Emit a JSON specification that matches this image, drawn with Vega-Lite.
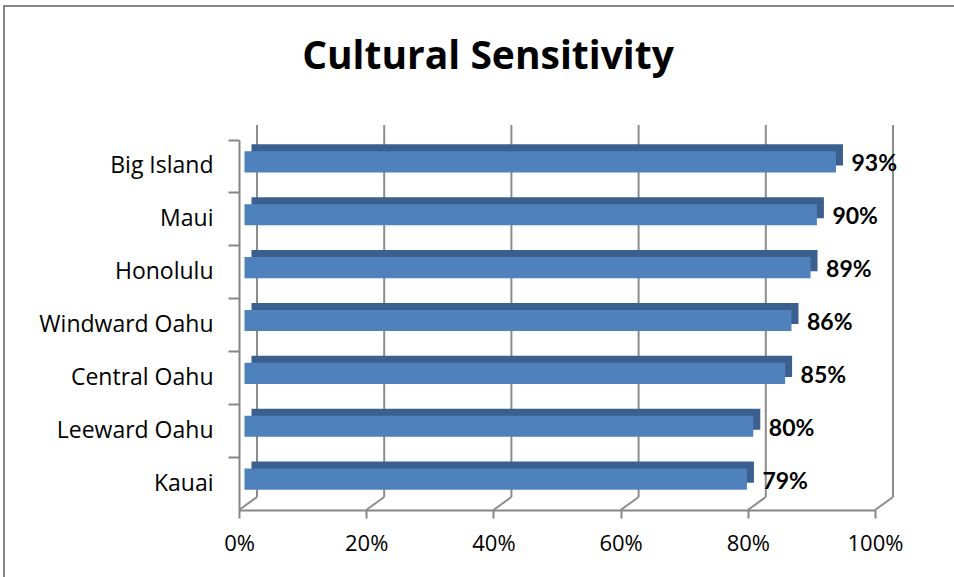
{
  "$schema": "https://vega.github.io/schema/vega-lite/v6.json",
  "autosize": "none",
  "padding": {"left": 4, "top": 6, "right": 0, "bottom": 0},
  "width": 1000,
  "height": 620,
  "background": "white",
  "config": {
    "view": {"stroke": "#868686", "strokeWidth": 2},
    "font": "Open Sans"
  },
  "title": {
    "text": "Cultural Sensitivity",
    "font": "Open Sans",
    "fontSize": 39,
    "fontWeight": "bold",
    "color": "black",
    "anchor": "middle",
    "baseline": "alphabetic",
    "dx": -16,
    "dy": 38,
    "offset": -64
  },
  "datasets": {
    "regions": [
      {"region": "Big Island", "share": 0.93},
      {"region": "Maui", "share": 0.90},
      {"region": "Honolulu", "share": 0.89},
      {"region": "Windward Oahu", "share": 0.86},
      {"region": "Central Oahu", "share": 0.85},
      {"region": "Leeward Oahu", "share": 0.80},
      {"region": "Kauai", "share": 0.79}
    ],
    "grid": [{"v": 0}, {"v": 0.2}, {"v": 0.4}, {"v": 0.6}, {"v": 0.8}, {"v": 1}]
  },
  "resolve": {"scale": {"y": "independent"}},
  "layer": [
    {
      "data": {"name": "grid"},
      "mark": {"type": "rule", "color": "#8c8c8c", "strokeWidth": 2, "xOffset": 18, "yOffset": -13, "y2Offset": -15},
      "encoding": {
        "x": {
          "field": "v", "type": "quantitative",
          "scale": {"domain": [0, 1], "range": [235, 871]},
          "axis": {
            "orient": "bottom", "offset": -116,
            "values": [0, 0.2, 0.4, 0.6, 0.8, 1], "format": ".0%",
            "grid": false, "title": null,
            "domainColor": "#868686", "domainWidth": 2,
            "tickColor": "#868686", "tickWidth": 2, "tickSize": 8,
            "labelFont": "Open Sans", "labelFontSize": 22, "labelColor": "black",
            "labelPadding": 15, "labelFlush": false
          }
        },
        "y": {"datum": 0, "type": "quantitative", "scale": {"domain": [0, 1], "range": [504, 134]}, "axis": null},
        "y2": {"datum": 1}
      }
    },
    {
      "data": {"name": "grid"},
      "mark": {"type": "rule", "color": "#8c8c8c", "strokeWidth": 2, "x2Offset": 18, "y2Offset": -13},
      "encoding": {
        "x": {"field": "v", "type": "quantitative"},
        "x2": {"field": "v"},
        "y": {"datum": 0, "type": "quantitative", "scale": {"domain": [0, 1], "range": [504, 134]}, "axis": null},
        "y2": {"datum": 0}
      }
    },
    {
      "mark": {"type": "rule", "color": "#8c8c8c", "strokeWidth": 2, "x2Offset": 18, "y2Offset": -15},
      "encoding": {
        "x": {"datum": 0, "type": "quantitative"},
        "x2": {"datum": 0},
        "y": {"datum": 1, "type": "quantitative", "scale": {"domain": [0, 1], "range": [504, 134]}, "axis": null},
        "y2": {"datum": 1}
      }
    },
    {
      "mark": {"type": "rule", "color": "#8c8c8c", "strokeWidth": 2, "xOffset": -11},
      "encoding": {
        "x": {"datum": 0, "type": "quantitative"},
        "x2": {"datum": 0},
        "y": {"datum": 0, "type": "quantitative", "scale": {"domain": [0, 1], "range": [504, 134]}, "axis": null},
        "y2": {"datum": 0}
      }
    },
    {
      "data": {"name": "regions"},
      "mark": {"type": "bar", "color": "#3b5f8e", "height": {"band": 0.4}, "xOffset": 12.5, "x2Offset": 12.5, "yOffset": -11.5, "y2Offset": -11.5},
      "encoding": {
        "y": {
          "field": "region", "type": "nominal",
          "scale": {"domain": ["Big Island", "Maui", "Honolulu", "Windward Oahu", "Central Oahu", "Leeward Oahu", "Kauai"], "range": [134, 504], "paddingInner": 0, "paddingOuter": 0},
          "axis": {
            "orient": "left", "offset": -235, "title": null,
            "bandPosition": 0,
            "domainColor": "#868686", "domainWidth": 2,
            "tickColor": "#868686", "tickWidth": 2, "tickSize": 11,
            "labelFont": "Open Sans", "labelFontSize": 23, "labelColor": "black",
            "labelPadding": 15
          }
        },
        "x": {"field": "share", "type": "quantitative"}
      }
    },
    {
      "data": {"name": "regions"},
      "mark": {"type": "bar", "color": "#4f81bd", "height": {"band": 0.4}, "xOffset": 5.5, "x2Offset": 5.5, "yOffset": -4.5, "y2Offset": -4.5},
      "encoding": {
        "y": {
          "field": "region", "type": "nominal",
          "scale": {"domain": ["Big Island", "Maui", "Honolulu", "Windward Oahu", "Central Oahu", "Leeward Oahu", "Kauai"], "range": [134, 504], "paddingInner": 0, "paddingOuter": 0},
          "axis": null
        },
        "x": {"field": "share", "type": "quantitative"}
      }
    },
    {
      "data": {"name": "regions"},
      "mark": {"type": "text", "font": "Lato", "fontSize": 23, "fontWeight": "bold", "color": "black", "align": "left", "baseline": "middle", "dx": 21, "dy": -2},
      "encoding": {
        "y": {
          "field": "region", "type": "nominal",
          "scale": {"domain": ["Big Island", "Maui", "Honolulu", "Windward Oahu", "Central Oahu", "Leeward Oahu", "Kauai"], "range": [134, 504], "paddingInner": 0, "paddingOuter": 0},
          "axis": null
        },
        "x": {"field": "share", "type": "quantitative"},
        "text": {"field": "share", "type": "quantitative", "format": ".0%"}
      }
    }
  ]
}
